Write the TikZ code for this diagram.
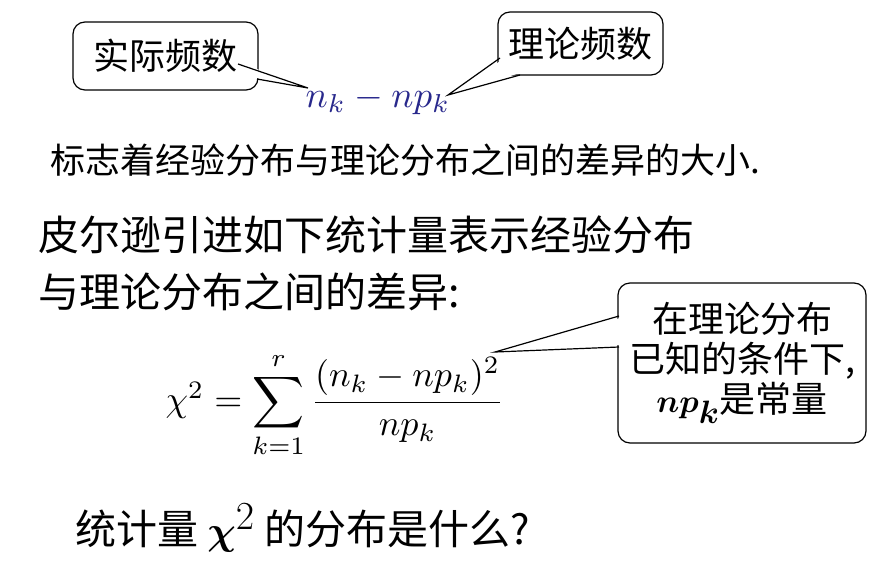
\documentclass[tikz,border=0pt]{standalone}
\usepackage{amsmath,bm}
\usepackage{fontspec}
\newfontfamily\cjk{Noto Sans CJK SC}
\usetikzlibrary{calc}
\definecolor{fblue}{RGB}{40,40,140}
\tikzset{
  callout/.style={draw,line width=1.2pt,rounded corners=12pt,fill=white},
  txt/.style={anchor=west,inner sep=0pt,font=\cjk\fontsize{41}{45}\selectfont},
  ctxt/.style={inner sep=0pt,font=\cjk\fontsize{36}{40}\selectfont},
}
\begin{document}
\begin{tikzpicture}[x=1pt,y=-1pt]
\useasboundingbox (0,0) rectangle (881,560);
% top formula
\node[text=fblue] (f1) at (378,100) {\scalebox{3.7}{$n_k - np_k$}};
\coordinate (p1) at (308,88);
\coordinate (p2) at (448,95);
% callout 1
\node[callout,minimum width=185pt,minimum height=68pt] (c1) at (165.5,56) {};
\fill[white] (238,62) -- (p1) -- (256,78) -- cycle;
\draw[line width=1.2pt] (238,64) -- (p1) -- (257,79);
\node[ctxt] (t1) at (c1) {实际频数};
% callout 2
\node[callout,minimum width=165pt,minimum height=63pt] (c2) at (580.5,43.5) {};
\fill[white] (505,58) -- (p2) -- (520,73) -- cycle;
\draw[line width=1.2pt] (500,58) -- (p2) -- (520,75);
\node[ctxt] (t2) at (c2) {理论频数};
% lines of text
\node[txt,font=\cjk\fontsize{35}{40}\selectfont] (l1) at (50,160) {标志着经验分布与理论分布之间的差异的大小.};
\node[txt] (l2) at (38,235) {皮尔逊引进如下统计量表示经验分布};
\node[txt] (l3) at (38,292) {与理论分布之间的差异:};
% chi formula
\node (f2) at (335,405) {\scalebox{3.6}{$\chi^2=\displaystyle\sum_{k=1}^{r}\frac{(n_k-np_k)^2}{np_k}$}};
% callout 3
\coordinate (p3) at (495,352);
\node[callout,minimum width=248pt,minimum height=160pt] (c3) at (742,363) {};
\fill[white] (620,318) -- (p3) -- (620,345) -- cycle;
\draw[line width=1.2pt] (619,316) -- (p3) -- (619,347);
\node[ctxt,align=center] (t3) at (c3) {在理论分布\\已知的条件下,\\\scalebox{1.3}{$\bm{np_k}$}是常量};
% bottom question
\node[txt] (l4) at (75,528) {统计量 \scalebox{1.6}{$\bm{\chi}^{2}$} 的分布是什么?};
\end{tikzpicture}
\end{document}
